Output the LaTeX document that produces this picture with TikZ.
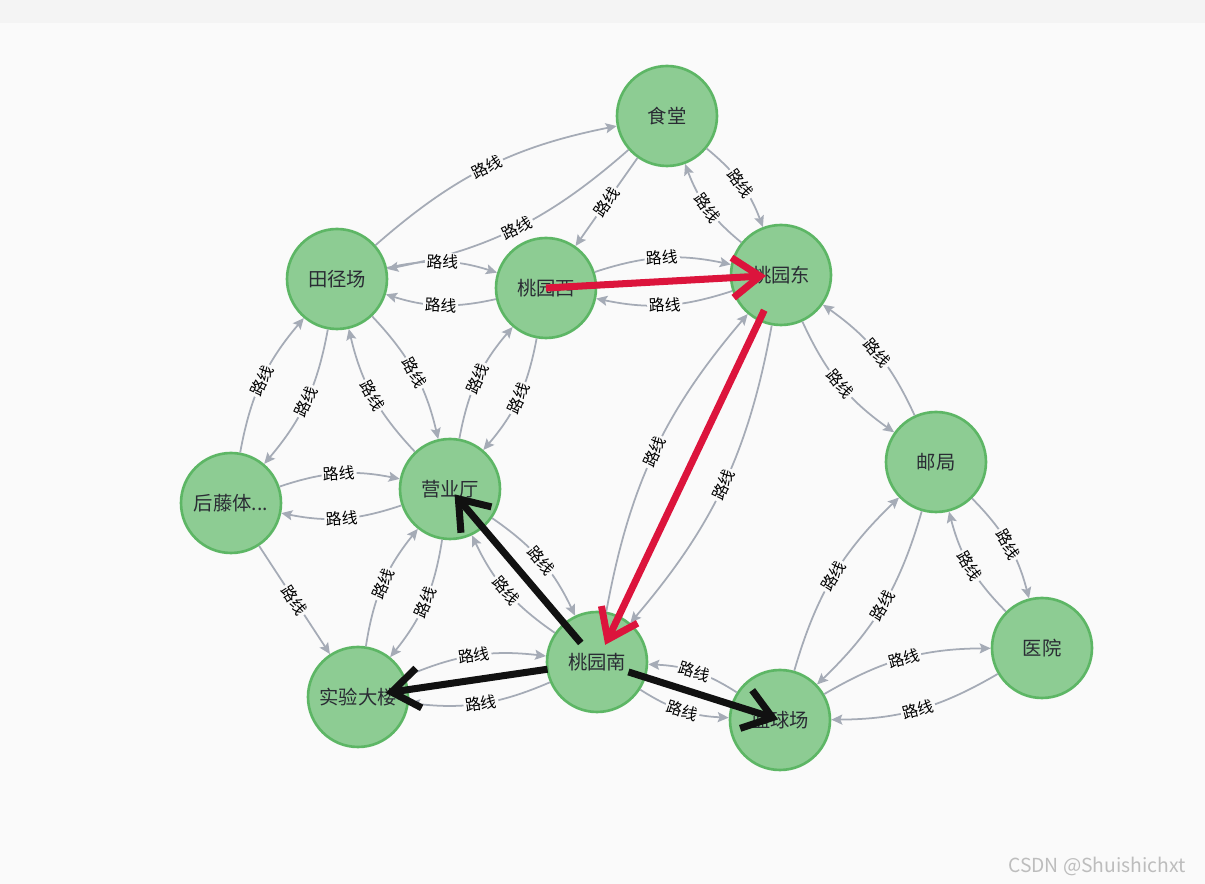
\documentclass[tikz,border=0pt]{standalone}
\usepackage{fontspec}
\setmainfont{Noto Sans CJK SC}
\usetikzlibrary{arrows.meta}

\definecolor{bgcol}{HTML}{FAFAFA}
\definecolor{topband}{HTML}{F4F4F4}
\definecolor{nodefill}{HTML}{8DCC93}
\definecolor{nodeborder}{HTML}{5DB665}
\definecolor{nodetext}{HTML}{2A2C34}
\definecolor{roadgray}{HTML}{A5ABB6}
\definecolor{pathred}{HTML}{DC143C}
\definecolor{pathblack}{HTML}{111111}
\definecolor{wmgray}{HTML}{BDBDBD}

\tikzset{
  spot/.style={circle,draw=nodeborder,fill=nodefill,line width=1.5pt,minimum size=2cm,
    inner sep=0pt,text=nodetext,font=\fontsize{11}{13}\selectfont},
  road/.style={->,draw=roadgray,line width=1pt},
  lbl/.style={sloped,fill=bgcol,inner sep=1pt,text=black,font=\fontsize{9}{10}\selectfont},
  hl/.style={line width=4pt,-{Straight Barb[length=5.5mm,width=8mm]}}
}

\begin{document}
\begin{tikzpicture}[x=0.02cm,y=-0.02cm,>={Stealth[length=2.2mm,width=2mm,inset=0.4mm]}]
 \fill[bgcol] (0,0) rectangle (1205,884);
 \fill[topband] (0,0) rectangle (1205,23);

 \node[spot] (shitang) at (667,116) {食堂};
 \node[spot] (tianjing) at (337,279) {田径场};
 \node[spot] (tyx) at (546,288) {桃园西};
 \node[spot] (tyd) at (781,275) {桃园东};
 \node[spot] (youju) at (936,462) {邮局};
 \node[spot] (houteng) at (231,503) {后藤体...};
 \node[spot] (yingye) at (450,489) {营业厅};
 \node[spot] (tyn) at (597,662) {桃园南};
 \node[spot] (shiyan) at (358,697) {实验大楼};
 \node[spot] (lanqiu) at (780,720) {篮球场};
 \node[spot] (yiyuan) at (1042,648) {医院};

 \draw[road] (tianjing) to[bend left=15] node[lbl]{路线} (shitang);
 \draw[road] (shitang) to[bend left=15] node[lbl]{路线} (tianjing);
 \draw[road] (shitang) -- node[lbl]{路线} (tyx);
 \draw[road] (shitang) to[bend left=15] node[lbl]{路线} (tyd);
 \draw[road] (tyd) to[bend left=15] node[lbl]{路线} (shitang);
 \draw[road] (tianjing) to[bend left=15] node[lbl]{路线} (tyx);
 \draw[road] (tyx) to[bend left=15] node[lbl]{路线} (tianjing);
 \draw[road] (tyx) to[bend left=15] node[lbl]{路线} (tyd);
 \draw[road] (tyd) to[bend left=15] node[lbl]{路线} (tyx);
 \draw[road] (houteng) to[bend left=15] node[lbl]{路线} (tianjing);
 \draw[road] (tianjing) to[bend left=15] node[lbl]{路线} (houteng);
 \draw[road] (yingye) to[bend left=15] node[lbl]{路线} (tianjing);
 \draw[road] (tianjing) to[bend left=15] node[lbl]{路线} (yingye);
 \draw[road] (yingye) to[bend left=15] node[lbl]{路线} (tyx);
 \draw[road] (tyx) to[bend left=15] node[lbl]{路线} (yingye);
 \draw[road] (houteng) to[bend left=15] node[lbl]{路线} (yingye);
 \draw[road] (yingye) to[bend left=15] node[lbl]{路线} (houteng);
 \draw[road] (houteng) -- node[lbl]{路线} (shiyan);
 \draw[road] (shiyan) to[bend left=15] node[lbl]{路线} (yingye);
 \draw[road] (yingye) to[bend left=15] node[lbl]{路线} (shiyan);
 \draw[road] (yingye) to[bend left=15] node[lbl]{路线} (tyn);
 \draw[road] (tyn) to[bend left=15] node[lbl]{路线} (yingye);
 \draw[road] (tyn) to[bend left=15] node[lbl]{路线} (tyd);
 \draw[road] (tyd) to[bend left=15] node[lbl]{路线} (tyn);
 \draw[road] (tyd) to[bend right=15] node[lbl]{路线} (youju);
 \draw[road] (youju) to[bend right=15] node[lbl]{路线} (tyd);
 \draw[road] (shiyan) to[bend left=15] node[lbl]{路线} (tyn);
 \draw[road] (tyn) to[bend left=15] node[lbl]{路线} (shiyan);
 \draw[road] (lanqiu) to[bend right=15] node[lbl]{路线} (tyn);
 \draw[road] (tyn) to[bend right=15] node[lbl]{路线} (lanqiu);
 \draw[road] (lanqiu) to[bend left=15] node[lbl]{路线} (youju);
 \draw[road] (youju) to[bend left=15] node[lbl]{路线} (lanqiu);
 \draw[road] (youju) to[bend left=15] node[lbl]{路线} (yiyuan);
 \draw[road] (yiyuan) to[bend left=15] node[lbl]{路线} (youju);
 \draw[road] (lanqiu) to[bend left=15] node[lbl]{路线} (yiyuan);
 \draw[road] (yiyuan) to[bend left=15] node[lbl]{路线} (lanqiu);

 \draw[hl,pathred,shorten >=0.3cm] (tyx.center) -- (tyd.center);
 \draw[hl,pathred,shorten <=0.78cm,shorten >=0.38cm] (tyd.center) -- (tyn.center);
 \draw[hl,pathblack,shorten <=0.5cm,shorten >=0.14cm] (tyn.center) -- (yingye.center);
 \draw[hl,pathblack,shorten <=1cm,shorten >=0.56cm] (tyn.center) -- (shiyan.center);
 \draw[hl,pathblack,shorten <=0.66cm,shorten >=0.04cm] (tyn.center) -- (lanqiu.center);

 \node[anchor=east,text=wmgray,font=\fontsize{11}{13}\selectfont] (wm) at (1192,866) {CSDN @Shuishichxt};
\end{tikzpicture}
\end{document}
